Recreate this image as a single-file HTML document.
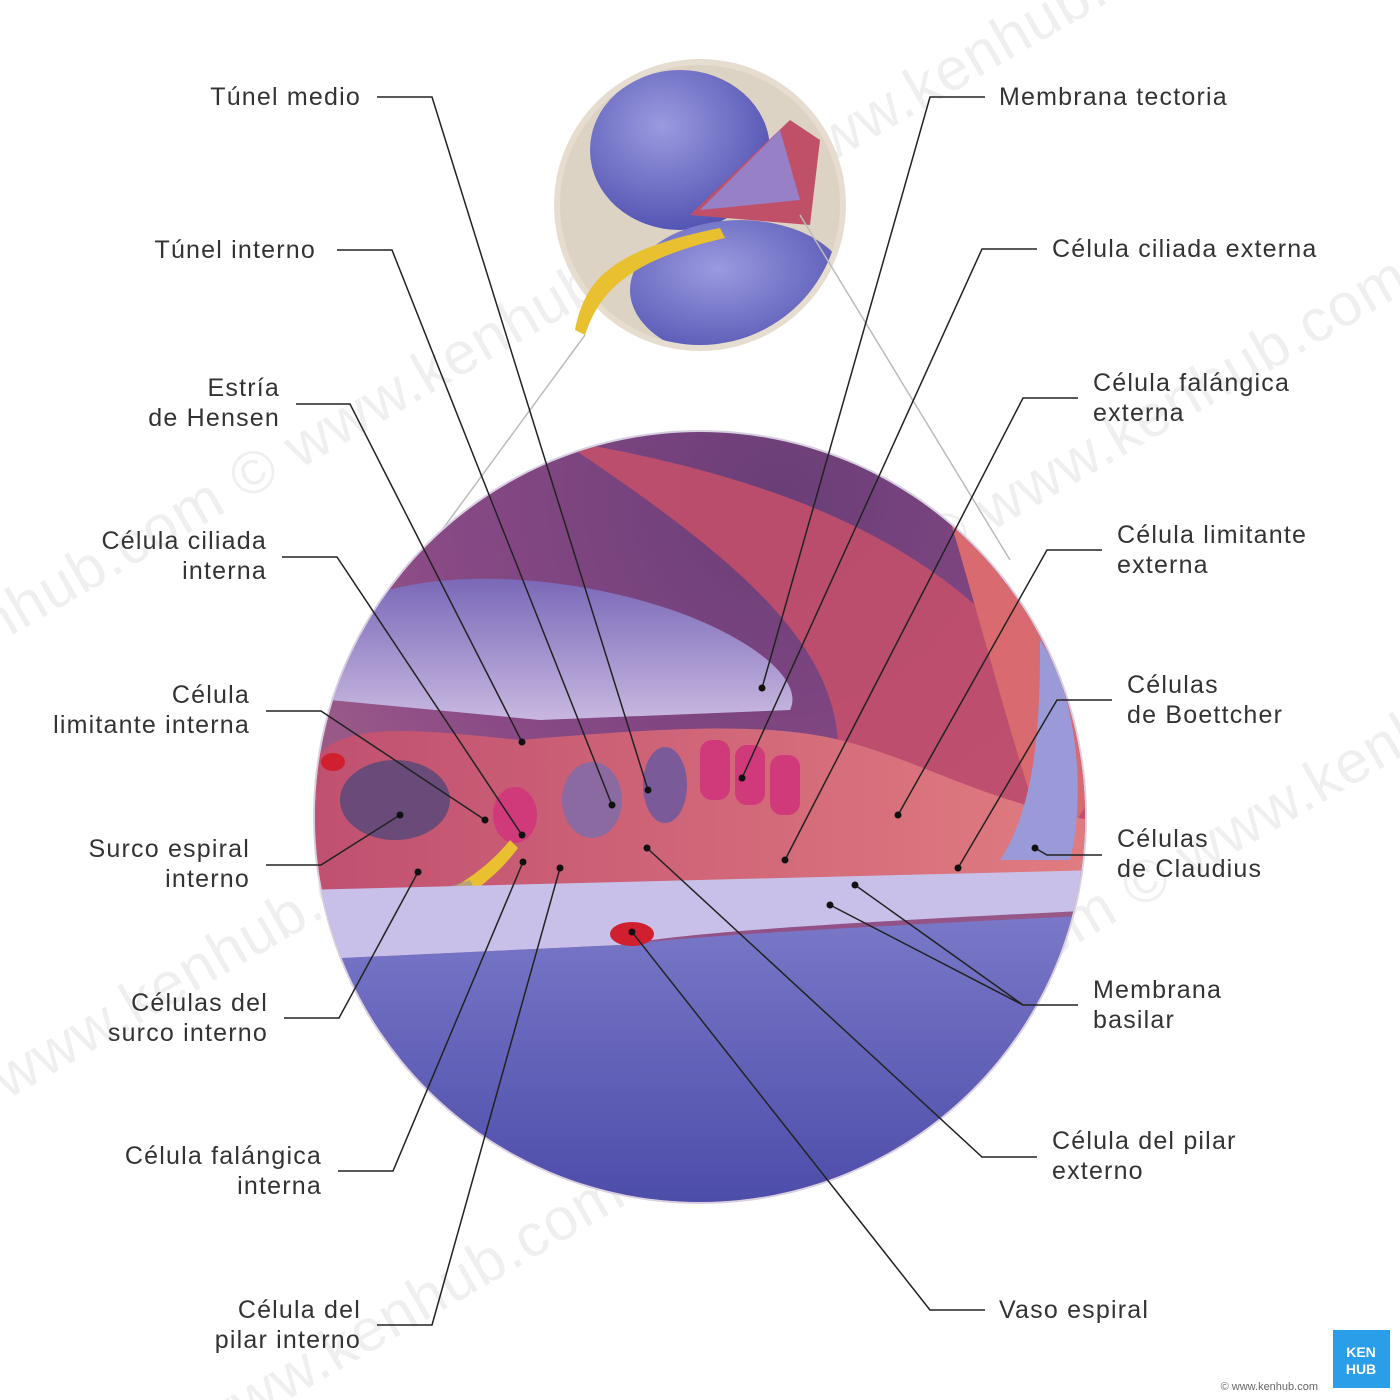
<!DOCTYPE html>
<html><head><meta charset="utf-8"><style>
html,body{margin:0;padding:0;background:#fff;width:1400px;height:1400px;overflow:hidden}
svg{display:block}
text{font-family:"Liberation Sans",sans-serif;font-size:25px;fill:#333;letter-spacing:1.2px}
</style></head><body>
<svg width="1400" height="1400" viewBox="0 0 1400 1400" xmlns="http://www.w3.org/2000/svg" overflow="hidden">
<defs>
<radialGradient id="bg1" cx="0.6" cy="0.1" r="0.9">
<stop offset="0" stop-color="#6a3e78"/><stop offset="0.5" stop-color="#8a4a86"/><stop offset="1" stop-color="#b0708a"/>
</radialGradient>
<linearGradient id="red" x1="0" y1="0" x2="1" y2="0">
<stop offset="0" stop-color="#c05070"/><stop offset="1" stop-color="#e07c80"/>
</linearGradient>
<linearGradient id="blue" x1="0" y1="0" x2="0" y2="1">
<stop offset="0" stop-color="#7a78c8"/><stop offset="1" stop-color="#4a4aa8"/>
</linearGradient>
<linearGradient id="tect" x1="0" y1="0" x2="0" y2="1">
<stop offset="0" stop-color="#7a68b8"/><stop offset="1" stop-color="#c8b8e0"/>
</linearGradient>
<clipPath id="big"><circle cx="700" cy="817" r="385"/></clipPath>
<clipPath id="small"><circle cx="700" cy="205" r="140"/></clipPath>
<clipPath id="page"><rect x="0" y="0" width="1400" height="1400"/></clipPath>
<radialGradient id="sb" cx="0.4" cy="0.35" r="0.7">
<stop offset="0" stop-color="#9a9ae0"/><stop offset="1" stop-color="#5050b0"/>
</radialGradient>
</defs>

<g clip-path="url(#page)">
<g opacity="0.07" transform="rotate(-30 700 700)">
<text x="-100" y="300" style="font-size:60px">www.kenhub.com © www.kenhub.com © www.kenhub.com</text>
<text x="-100" y="700" style="font-size:60px">www.kenhub.com © www.kenhub.com © www.kenhub.com</text>
<text x="-100" y="1100" style="font-size:60px">www.kenhub.com © www.kenhub.com © www.kenhub.com</text>
</g>
</g>

<!-- small top circle -->
<circle cx="700" cy="205" r="146" fill="#e6ddd0"/>
<g clip-path="url(#small)">
<rect x="550" y="60" width="300" height="300" fill="#ddd3c4"/>
<ellipse cx="680" cy="150" rx="90" ry="80" fill="url(#sb)"/>
<ellipse cx="740" cy="290" rx="110" ry="70" fill="url(#sb)"/>
<path d="M690 215 L790 120 L820 140 L810 225 Z" fill="#c05068"/>
<path d="M700 210 L780 130 L800 200 Z" fill="#9880c8"/>
</g>
<path d="M575 330 C585 280 610 250 720 228 L725 238 C630 260 600 290 585 335 Z" fill="#e8c030"/>
<line x1="420" y1="560" x2="585" y2="335" stroke="#bbb" stroke-width="1.5"/>
<line x1="800" y1="215" x2="1010" y2="560" stroke="#bbb" stroke-width="1.5"/>

<!-- big circle -->
<circle cx="700" cy="817" r="387" fill="#d8d0e0"/>
<g clip-path="url(#big)">
<rect x="300" y="420" width="800" height="800" fill="url(#bg1)"/>
<path d="M560 440 C800 480 1000 560 1090 760 L1090 880 L800 880 C900 700 800 600 560 440 Z" fill="#c8506a" opacity="0.85"/>
<path d="M950 520 C1040 580 1080 680 1090 800 L1050 860 C1000 700 980 620 950 520 Z" fill="#d86a70"/>
<path d="M360 600 C450 560 620 580 720 630 C780 660 800 690 790 710 L540 720 L330 700 Z" fill="url(#tect)"/>
<path d="M315 760 C340 720 420 730 520 740 C640 730 760 720 840 740 C920 760 980 800 1090 820 L1090 880 L310 890 Z" fill="url(#red)"/>
<path d="M1040 640 C1080 700 1085 800 1070 860 L1000 860 C1040 800 1040 700 1040 640Z" fill="#9a9ad8"/>
<ellipse cx="395" cy="800" rx="55" ry="40" fill="#6a4a78"/>
<ellipse cx="592" cy="800" rx="30" ry="38" fill="#8a6aa0"/>
<ellipse cx="665" cy="785" rx="22" ry="38" fill="#7a5a98"/>
<g fill="#d03a7a">
<ellipse cx="515" cy="815" rx="22" ry="28"/>
<rect x="700" y="740" width="30" height="60" rx="12"/>
<rect x="735" y="745" width="30" height="60" rx="12"/>
<rect x="770" y="755" width="30" height="60" rx="12"/>
</g>
<path d="M320 925 C400 920 470 890 510 840 L518 848 C480 900 410 935 320 940 Z" fill="#e8c030"/>
<path d="M310 930 L340 960 L480 900 L470 880 Z" fill="#a89a8a" opacity="0.7"/>
<path d="M300 890 L1100 870 L1100 910 C900 920 700 930 620 945 L300 960 Z" fill="#c8c0e8"/>
<path d="M300 960 L620 945 C700 935 900 925 1100 915 L1100 1220 L300 1220 Z" fill="url(#blue)"/>
<ellipse cx="632" cy="934" rx="22" ry="12" fill="#d02030"/>
<ellipse cx="333" cy="762" rx="12" ry="9" fill="#d02030"/>
</g>

<g fill="none" stroke="#222" stroke-width="1.5">
<polyline points="377,97 432,97 648,790"/>
<polyline points="337,250 392,250 612,805"/>
<polyline points="296,404 350,404 522,742"/>
<polyline points="282,557 337,557 522,835"/>
<polyline points="266,711 321,711 485,820"/>
<polyline points="266,865 321,865 400,815"/>
<polyline points="284,1018 339,1018 418,872"/>
<polyline points="338,1171 393,1171 523,862"/>
<polyline points="377,1325 432,1325 560,868"/>
<polyline points="985,97 930,97 762,688"/>
<polyline points="1037,249 982,249 742,778"/>
<polyline points="1078,398 1023,398 785,860"/>
<polyline points="1102,550 1047,550 898,815"/>
<polyline points="1112,700 1057,700 958,868"/>
<polyline points="1102,855 1047,855 1035,848"/>
<polyline points="1078,1005 1023,1005 855,885"/>
<polyline points="1023,1005 830,905"/>
<polyline points="1037,1157 982,1157 647,848"/>
<polyline points="985,1310 930,1310 632,932"/>
</g>
<g fill="#111">
<circle cx="648" cy="790" r="3.5"/><circle cx="612" cy="805" r="3.5"/><circle cx="522" cy="742" r="3.5"/>
<circle cx="522" cy="835" r="3.5"/><circle cx="485" cy="820" r="3.5"/><circle cx="400" cy="815" r="3.5"/>
<circle cx="418" cy="872" r="3.5"/><circle cx="523" cy="862" r="3.5"/><circle cx="560" cy="868" r="3.5"/>
<circle cx="762" cy="688" r="3.5"/><circle cx="742" cy="778" r="3.5"/><circle cx="785" cy="860" r="3.5"/>
<circle cx="898" cy="815" r="3.5"/><circle cx="958" cy="868" r="3.5"/><circle cx="1035" cy="848" r="3.5"/>
<circle cx="855" cy="885" r="3.5"/><circle cx="830" cy="905" r="3.5"/><circle cx="647" cy="848" r="3.5"/>
<circle cx="632" cy="932" r="3.5"/>
</g>

<g text-anchor="end">
<text x="361" y="105">Túnel medio</text>
<text x="316" y="258">Túnel interno</text>
<text x="280" y="396">Estría</text><text x="280" y="426">de Hensen</text>
<text x="267" y="549">Célula ciliada</text><text x="267" y="579">interna</text>
<text x="250" y="703">Célula</text><text x="250" y="733">limitante interna</text>
<text x="250" y="857">Surco espiral</text><text x="250" y="887">interno</text>
<text x="268" y="1011">Células del</text><text x="268" y="1041">surco interno</text>
<text x="322" y="1164">Célula falángica</text><text x="322" y="1194">interna</text>
<text x="361" y="1318">Célula del</text><text x="361" y="1348">pilar interno</text>
</g>
<g>
<text x="999" y="105">Membrana tectoria</text>
<text x="1052" y="257">Célula ciliada externa</text>
<text x="1093" y="391">Célula falángica</text><text x="1093" y="421">externa</text>
<text x="1117" y="543">Célula limitante</text><text x="1117" y="573">externa</text>
<text x="1127" y="693">Células</text><text x="1127" y="723">de Boettcher</text>
<text x="1117" y="847">Células</text><text x="1117" y="877">de Claudius</text>
<text x="1093" y="998">Membrana</text><text x="1093" y="1028">basilar</text>
<text x="1052" y="1149">Célula del pilar</text><text x="1052" y="1179">externo</text>
<text x="999" y="1318">Vaso espiral</text>
</g>

<rect x="1333" y="1330" width="57" height="58" fill="#2a9ee8"/>
<text x="1361" y="1357" text-anchor="middle" style="font-size:14px;fill:#fff;font-weight:bold;letter-spacing:0">KEN</text>
<text x="1361" y="1374" text-anchor="middle" style="font-size:14px;fill:#fff;font-weight:bold;letter-spacing:0">HUB</text>
<text x="1318" y="1390" text-anchor="end" style="font-size:11px;fill:#666;letter-spacing:0">© www.kenhub.com</text>
</svg>
</body></html>
